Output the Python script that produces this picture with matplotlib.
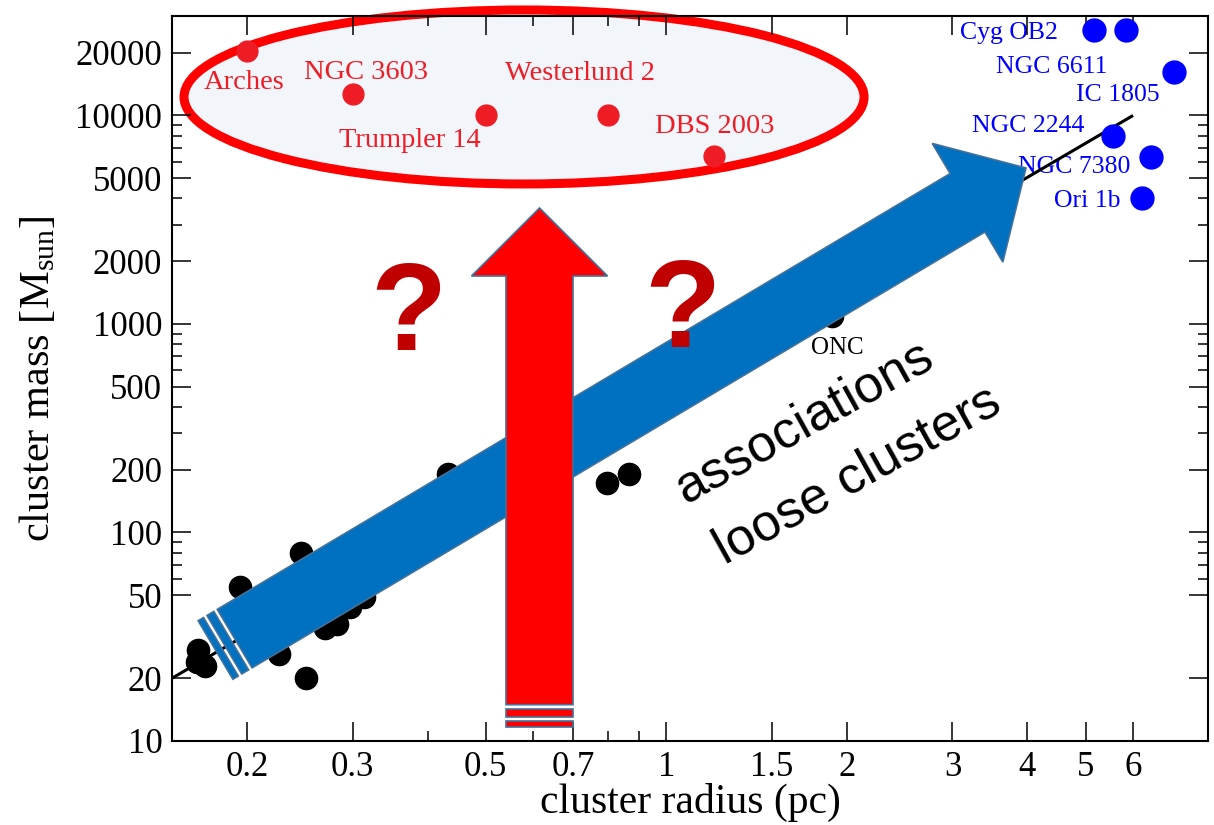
import matplotlib
matplotlib.use('Agg')
import numpy as np
import matplotlib.pyplot as plt
from matplotlib.patches import Ellipse, Polygon
from matplotlib.transforms import Affine2D

plt.rcParams['font.family'] = ['Liberation Serif', 'DejaVu Serif']
plt.rcParams['mathtext.fontset'] = 'custom'
plt.rcParams['mathtext.rm'] = 'Liberation Serif'
plt.rcParams['mathtext.it'] = 'Liberation Serif:italic'

# ---- data ----
black_r = [0.166, 0.165, 0.170, 0.1945, 0.2457, 0.226, 0.2505, 0.270, 0.283,
           0.297, 0.313, 0.433, 0.798, 0.868]
black_m = [27.4, 24.0, 22.9, 55, 80, 26, 20, 35, 36.5, 44, 49, 190, 172, 190]
onc_r = [1.887]
onc_m = [1090]

red_names = ['Arches', 'NGC 3603', 'Trumpler 14', 'Westerlund 2', 'DBS 2003']
red_r = [0.2, 0.3, 0.5, 0.8, 1.2]
red_m = [20300, 12700, 10000, 10000, 6400]

blue_names = ['Cyg OB2', 'IC 1805', 'NGC 6611', 'NGC 2244', 'NGC 7380', 'Ori 1b']
blue_r = [5.16, 5.83, 7.03, 5.55, 6.44, 6.22]
blue_m = [25600, 25600, 16100, 8000, 6350, 4000]

fit_r = [0.15, 6.0]
fit_m = [20, 10000]

xticks = [0.2, 0.3, 0.5, 0.7, 1, 1.5, 2, 3, 4, 5, 6]
xtick_labels = ['0.2', '0.3', '0.5', '0.7', '1', '1.5', '2', '3', '4', '5', '6']
xminor = [0.4, 0.6, 0.8, 0.9]
yticks = [10, 20, 50, 100, 200, 500, 1000, 2000, 5000, 10000, 20000]
yminor = [60, 70, 80, 90, 300, 400, 600, 700, 800, 900,
          3000, 4000, 6000, 7000, 8000, 9000]

# label offsets in pixels from their point
red_off = [(-3, -38), (13, 15), (-76, -32), (-28, 35), (1, 23)]
blue_off = [(-36, -9), (34, -71), (-67, -1), (-28, 4), (-21, -16), (-22, -9)]

RED = '#ee1c25'
BLUE = '#0000ff'

fig = plt.figure(figsize=(12.14, 8.25), dpi=100)
ax = fig.add_axes([0.14168, 0.10182, 0.85338, 0.87879])
ax.set_xscale('log')
ax.set_yscale('log')
ax.set_xlim(0.15, 8.0)
ax.set_ylim(10, 30000)

ax.set_xticks(xticks)
ax.set_xticklabels(xtick_labels)
ax.set_xticks(xminor, minor=True)
ax.set_xticklabels([], minor=True)
ax.set_yticks(yticks)
ax.set_yticklabels([str(v) for v in yticks])
ax.set_yticks(yminor, minor=True)
ax.set_yticklabels([], minor=True)
ax.tick_params(which='both', direction='in', top=True, right=True,
               labelsize=25, width=1.1, pad=7)
ax.tick_params(which='major', length=14)
ax.tick_params(which='minor', length=7)
for sp in ax.spines.values():
    sp.set_linewidth(1.5)

ax.set_xlabel('cluster radius (pc)', fontsize=30)
ax.set_ylabel(r'cluster mass [M$_{\mathrm{sun}}$]', fontsize=30.5)
ax.xaxis.label.set_verticalalignment('baseline')
ax.xaxis.set_label_coords(0.5, -0.0993)
ax.yaxis.label.set_verticalalignment('baseline')
ax.yaxis.set_label_coords(-0.1187, 0.5)

# red ellipse around the dense massive clusters
ell = Ellipse((0.3398, 0.8883), 0.6564, 0.24, transform=ax.transAxes,
              facecolor='#f2f5fa', edgecolor='#ff0000', linewidth=6.5,
              zorder=1, clip_on=False)
ax.add_patch(ell)

# fit line and points
ax.plot(fit_r, fit_m, color='black', linewidth=2.2, zorder=2.2,
        solid_capstyle='butt')
ax.plot(black_r, black_m, 'o', color='black', markersize=16, zorder=2.5)
ax.plot(onc_r, onc_m, 'o', color='black', markersize=16, zorder=2.5)
ax.plot(red_r, red_m, 'o', color=RED, markersize=15, zorder=2.5)
ax.plot(blue_r, blue_m, 'o', color=BLUE, markersize=16.5, zorder=2.5)

for name, r, m, off in zip(red_names, red_r, red_m, red_off):
    ax.annotate(name, (r, m), xytext=off, textcoords='offset pixels',
                ha='center', va='baseline', color=RED, fontsize=20.5,
                zorder=1.5)
for name, r, m, off in zip(blue_names, blue_r, blue_m, blue_off):
    ax.annotate(name, (r, m), xytext=off, textcoords='offset pixels',
                ha='right', va='baseline', color=BLUE, fontsize=18.5,
                zorder=1.5, annotation_clip=False)
ax.annotate('ONC', (onc_r[0], onc_m[0]), xytext=(6, -38),
            textcoords='offset pixels', ha='center', va='baseline',
            color='black', fontsize=18, zorder=1.5)

# striped block arrows, built in axes pixel space
pos = ax.get_position()
W = pos.width * fig.get_figwidth() * fig.dpi
H = pos.height * fig.get_figheight() * fig.dpi
px_trans = Affine2D().scale(1.0 / W, 1.0 / H) + ax.transAxes


def striped_arrow(tail, tip, body_w, head_w, head_len, fc, z):
    tail = np.array(tail, float)
    tip = np.array(tip, float)
    d = tip - tail
    L = np.hypot(*d)
    u = d / L
    v = np.array([-u[1], u[0]])
    bw, hw = body_w / 2.0, head_w / 2.0

    def to_xy(pts):
        return [tail + a * u + b * v for a, b in pts]

    pieces = [
        [(0, -bw), (6.3, -bw), (6.3, bw), (0, bw)],
        [(10.3, -bw), (18.3, -bw), (18.3, bw), (10.3, bw)],
        [(22.3, -bw), (L - head_len, -bw), (L - head_len, -hw), (L, 0),
         (L - head_len, hw), (L - head_len, bw), (22.3, bw)],
    ]
    for p in pieces:
        ax.add_patch(Polygon(to_xy(p), closed=True, transform=px_trans,
                             facecolor=fc, edgecolor='#41719c',
                             linewidth=1.2, joinstyle='miter', zorder=z,
                             clip_on=False))


striped_arrow((43.5, 91), (854, 573), 68, 138, 68, '#0070c0', 3)
striped_arrow((367.5, 14), (367.5, 533), 67, 136, 68, '#ff0000', 4)

# question marks
for fx, fy in [(0.2278, 0.5393), (0.4923, 0.5434)]:
    ax.text(fx, fy, '?', transform=ax.transAxes, ha='center', va='baseline',
            fontsize=90, fontweight='bold', color='#c00000',
            family=['Liberation Sans', 'DejaVu Sans'], zorder=5)

# rotated annotation
ax.text(0.4960, 0.3270, 'associations', transform=ax.transAxes, rotation=29,
        rotation_mode='anchor', ha='left', va='baseline', fontsize=37.5,
        family=['Liberation Sans', 'DejaVu Sans'], zorder=5)
ax.text(0.5335, 0.2430, 'loose clusters', transform=ax.transAxes, rotation=29,
        rotation_mode='anchor', ha='left', va='baseline', fontsize=37.5,
        family=['Liberation Sans', 'DejaVu Sans'], zorder=5)

fig.savefig('out.png', dpi=100)
